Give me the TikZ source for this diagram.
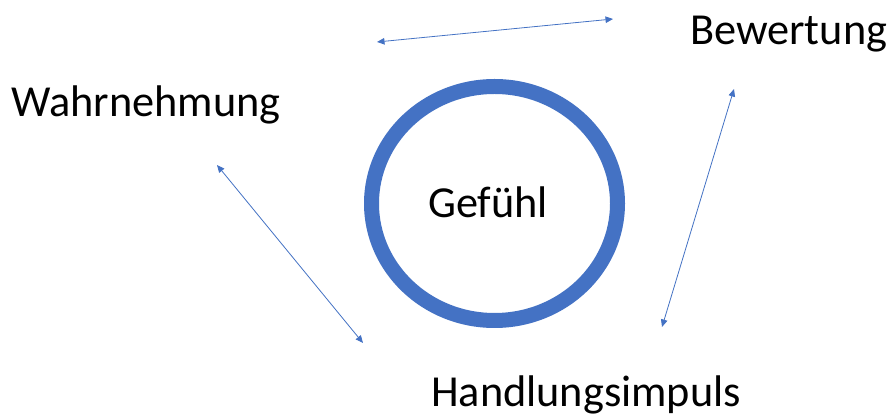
\documentclass[tikz,border=0pt]{standalone}
\usepackage{fontspec}
\setmainfont{Carlito}
\usetikzlibrary{arrows.meta}
\definecolor{accblue}{HTML}{4472C4}
\begin{document}
\begin{tikzpicture}[x=1pt,y=-1pt,
  lbl/.style={anchor=base west,inner sep=0pt,font=\fontsize{44.3}{50}\selectfont},
  link/.style={draw=accblue,line width=0.8pt,{Triangle[length=7.5pt,width=6.5pt]}-{Triangle[length=7.5pt,width=6.5pt]}}]
\useasboundingbox (0,0) rectangle (889,419);
\fill[white] (0,0) rectangle (889,419);
% ring
\draw[accblue,line width=15pt] (494.5,203.5) ellipse [x radius=123pt, y radius=117pt];
\node[lbl] (gef) at (428,218) {Gefühl};
\node[lbl] (bew) at (690,45) {Bewertung};
\node[lbl] (wahr) at (11,117) {Wahrnehmung};
\node[lbl] (hand) at (431,407) {Handlungsimpuls};
% arrow ends
\coordinate (t1) at (377,42);
\coordinate (t2) at (613,19);
\coordinate (l1) at (217,165);
\coordinate (l2) at (363,343);
\coordinate (r1) at (734,89);
\coordinate (r2) at (662,327);
\draw[link] (t1) -- (t2);
\draw[link] (l1) -- (l2);
\draw[link] (r1) -- (r2);
\end{tikzpicture}
\end{document}
